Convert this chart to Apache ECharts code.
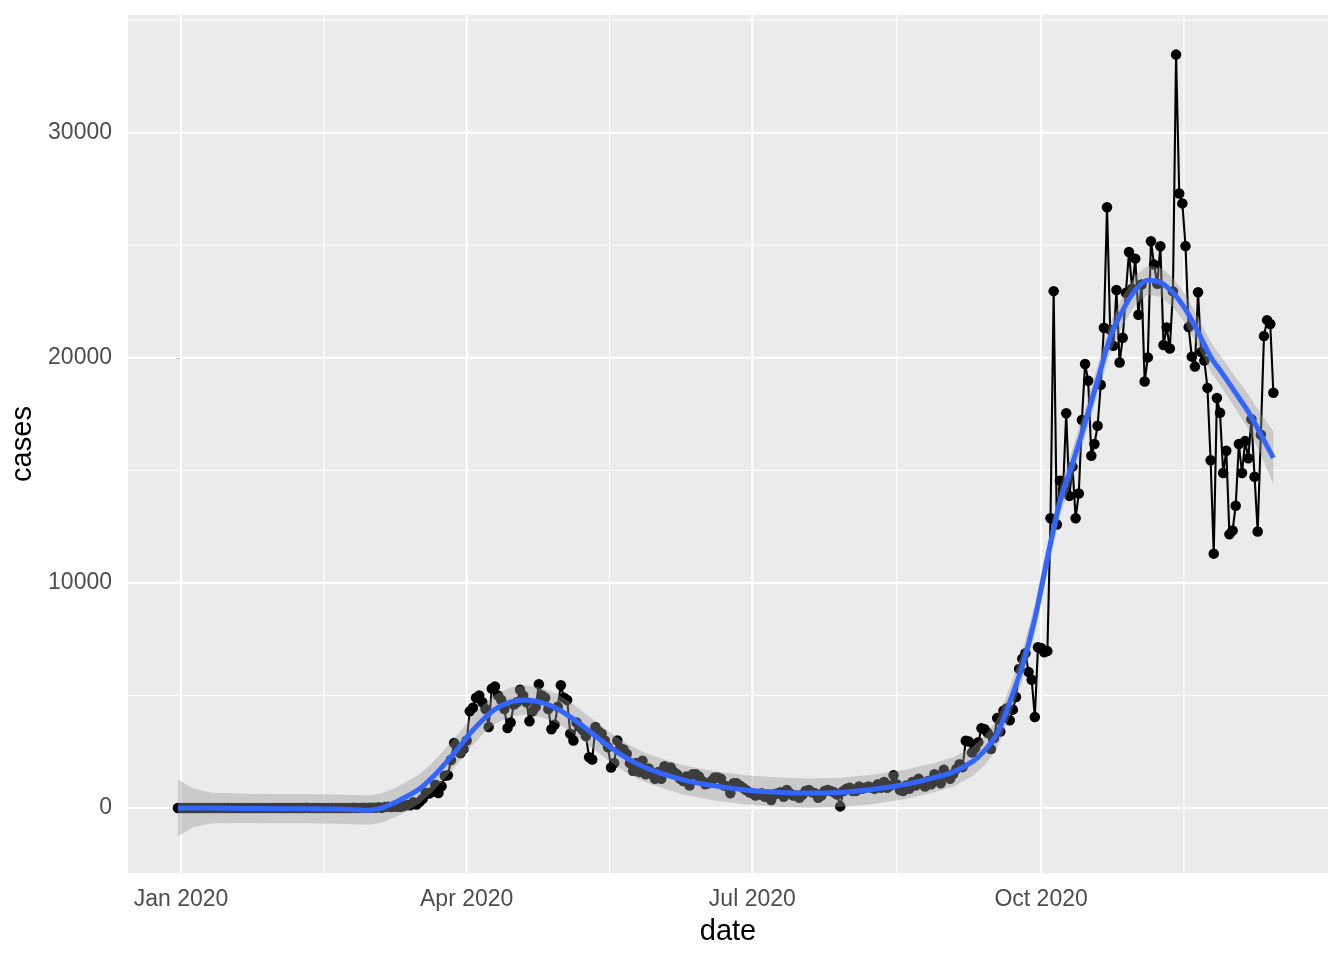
<!DOCTYPE html>
<html>
<head>
<meta charset="utf-8">
<script src="https://cdn.jsdelivr.net/npm/echarts@6/dist/echarts.min.js"></script>
<style>
  html, body { margin: 0; padding: 0; background: #fff; }
  #chart { width: 1344px; height: 960px; }
</style>
</head>
<body>
<div id="chart"></div>
<script>
// daily cases, first day is 2019-12-31 (day -1, day 0 = 2020-01-01)
const firstDay = -1
const dec2019 = [0]
const jan = [0, 0, 0, 0, 0, 0, 0, 0, 0, 0, 0, 0, 0, 0, 0, 0, 0, 0, 0, 0, 0, 0, 0, 0, 0, 0, 0, 0, 0, 0, 0]
const feb = [2, 0, 0, 0, 0, 1, 0, 0, 0, 4, 1, 0, 1, 0, 0, 0, 0, 0, 0, 0, 0, 0, 0, 0, 4, 0, 2, 5, 3]
const mar = [12, 4, 11, 34, 3, 47, 48, 46, 67, 48, 52, 83, 134, 117, 251, 152, 271, 407, 676, 643,
  714, 1035, 665, 967, 1427, 1452, 2129, 2885, 2546, 2433, 2619]
const apr = [3000, 4300, 4450, 4900, 5000, 4700, 4400, 3600, 5300, 5400,
  5000, 4800, 4400, 3550, 3800, 4600, 4700, 5250, 5000, 4700,
  3850, 4300, 4500, 5500, 5000, 4900, 4400, 3500, 3700, 4500]
const may = [5450, 4900, 4800, 3300, 3000, 3800, 3600, 3450, 3200, 2250,
  2150, 3600, 3400, 3300, 3000, 2700, 1800, 2000, 3000, 2650,
  2600, 2400, 2000, 1650, 2000, 1600, 2100, 1500, 1750, 1500, 1300]
const jun = [1600, 1300, 1850, 1700, 1800, 1600, 1500, 1300, 1200, 1400,
  1000, 1500, 1500, 1400, 1200, 1050, 1100, 1200, 1350, 1350,
  1300, 1000, 950, 650, 1100, 1100, 1000, 900, 800, 700]
const jul = [650, 550, 600, 650, 500, 600, 350, 600, 650, 700,
  500, 800, 650, 550, 550, 450, 600, 750, 800, 700,
  650, 450, 550, 750, 800, 750, 700, 600, 70, 750, 850]
const aug = [900, 750, 750, 950, 850, 900, 950, 900, 850, 1050,
  900, 1150, 900, 1000, 1450, 1050, 800, 750, 1000, 850,
  1150, 1000, 1300, 1100, 950, 1200, 1050, 1500, 1250, 1100, 1700]
const sep = [1406, 1295, 1508, 1735, 1940, 1813, 2988, 2948, 2460, 2659,
  2919, 3539, 3497, 3330, 2621, 3105, 3991, 3395, 4322, 4422,
  3899, 4368, 4926, 6178, 6634, 6874, 6042, 5693, 4044, 7143]
const oct = [7108, 6914, 6968, 12872, 22961, 12594, 14542, 14162, 17540, 13864,
  15166, 12872, 13972, 17234, 19724, 18980, 15650, 16171, 16982, 18804,
  21331, 26688, 21242, 20530, 23012, 19790, 20890, 22885, 24701, 23065, 24405]
const nov = [21915, 23254, 18950, 20018, 25177, 24141, 23287, 24957, 20572, 21350,
  20412, 22950, 33470, 27301, 26860, 24962, 21363, 20051, 19609, 22915,
  20252, 19875, 18662, 15450, 11299, 18213, 17555, 14879, 15871, 12155]
const dec = [12330, 13430, 16170, 14879, 16298, 15539, 17272, 14718, 12282, 16578,
  20964, 21672, 21502, 18447]

// loess smooth
const fitDays = [-1, 4, 10, 20, 30, 40, 50, 56, 60, 64, 68, 72, 76, 80, 84, 88, 92, 96, 100, 105,
  110, 115, 120, 125, 130, 135, 140, 145, 150, 160, 170, 180, 190, 200, 210, 220, 230, 240, 246, 252,
  256, 260, 264, 268, 272, 276, 280, 284, 288, 292, 296, 300, 304, 308, 312, 316, 320, 324, 328, 332,
  336, 340, 344, 348]
const fitCases = [0, 0, 0, -20, -30, -30, -50, -80, -100, 0, 230, 520, 850, 1350, 1950, 2600, 3300, 3900, 4380, 4710,
  4800, 4680, 4400, 3950, 3420, 2880, 2380, 1980, 1680, 1250, 980, 800, 700, 660, 690, 820, 1030, 1350, 1600, 2050,
  2550, 3300, 4700, 6300, 8400, 11100, 13600, 15300, 17100, 19000, 20900, 22100, 23000, 23450, 23350, 22900, 22150, 21150, 20050, 19250,
  18430, 17600, 16600, 15550]
// half height of the grey confidence band
const bandHalf = [1260, 850, 680, 650, 650, 650, 650, 650, 650, 650, 650, 650, 650, 650, 650, 650, 650, 650, 650, 650,
  650, 650, 650, 650, 650, 650, 650, 650, 650, 650, 650, 650, 650, 650, 650, 650, 650, 650, 650, 650,
  650, 650, 650, 650, 650, 650, 650, 650, 650, 650, 650, 650, 650, 650, 650, 650, 650, 650, 660, 670,
  700, 780, 900, 1180]

// axes
const xMajor = [0, 91, 182, 274]
const xMinor = [45.5, 136.5, 228, 319.5]
const xLabels = ['Jan 2020', 'Apr 2020', 'Jul 2020', 'Oct 2020']
const yMajor = [0, 10000, 20000, 30000]
const yMinor = [5000, 15000, 25000, 35000]
const xMin = -16.9
const xMax = 365.4
const yMin = -2890
const yMax = 35230

const cases = [].concat(dec2019, jan, feb, mar, apr, may, jun, jul, aug, sep, oct, nov, dec)
const points = cases.map((v, i) => [firstDay + i, v])

const FONT = 'Liberation Sans'

const vGrid = xMajor.map(v => [v, 0, 1]).concat(xMinor.map(v => [v, 0, 0]))
const hGrid = yMajor.map(v => [0, v, 1]).concat(yMinor.map(v => [0, v, 0]))

const chart = echarts.init(document.getElementById('chart'))
chart.setOption({
  animation: false,
  backgroundColor: '#ffffff',
  grid: {
    left: 128,
    right: 16,
    top: 15,
    bottom: 87,
    show: true,
    backgroundColor: '#EBEBEB',
    borderWidth: 0
  },
  xAxis: {
    type: 'value',
    min: xMin,
    max: xMax,
    name: 'date',
    nameLocation: 'middle',
    nameGap: 44,
    nameTextStyle: { fontFamily: FONT, fontSize: 29, color: '#000' },
    axisLine: { show: false },
    splitLine: { show: false },
    axisTick: { show: true, length: 5, customValues: xMajor, lineStyle: { color: '#333333', width: 1.1 } },
    axisLabel: {
      customValues: xMajor,
      margin: 15,
      fontFamily: FONT,
      fontSize: 23,
      color: '#4D4D4D',
      formatter: v => xLabels[xMajor.indexOf(v)]
    }
  },
  yAxis: {
    type: 'value',
    min: yMin,
    max: yMax,
    name: 'cases',
    nameLocation: 'middle',
    nameGap: 86,
    nameTextStyle: { fontFamily: FONT, fontSize: 29, color: '#000' },
    axisLine: { show: false },
    splitLine: { show: false },
    axisTick: { show: true, length: 5, customValues: yMajor, lineStyle: { color: '#333333', width: 1.1 } },
    axisLabel: {
      customValues: yMajor,
      margin: 16,
      fontFamily: FONT,
      fontSize: 23,
      color: '#4D4D4D',
      formatter: v => String(v)
    }
  },
  series: [
    {
      // vertical grid lines
      type: 'custom',
      silent: true,
      z: 1,
      data: vGrid,
      renderItem: (params, api) => {
        const x = api.value(0)
        const a = api.coord([x, yMin])
        const b = api.coord([x, yMax])
        return {
          type: 'line',
          shape: { x1: a[0], y1: a[1], x2: b[0], y2: b[1] },
          style: { stroke: '#ffffff', lineWidth: api.value(2) ? 2.1 : 1.05 }
        }
      }
    },
    {
      // horizontal grid lines
      type: 'custom',
      silent: true,
      z: 1,
      data: hGrid,
      renderItem: (params, api) => {
        const y = api.value(1)
        const a = api.coord([xMin, y])
        const b = api.coord([xMax, y])
        return {
          type: 'line',
          shape: { x1: a[0], y1: a[1], x2: b[0], y2: b[1] },
          style: { stroke: '#ffffff', lineWidth: api.value(2) ? 2.1 : 1.05 }
        }
      }
    },
    {
      type: 'line',
      data: points,
      z: 2,
      symbol: 'circle',
      symbolSize: 10.5,
      showAllSymbol: true,
      itemStyle: { color: '#000000' },
      lineStyle: { color: '#000000', width: 2.1 },
      silent: true
    },
    {
      // confidence band of the smooth
      type: 'custom',
      silent: true,
      z: 3,
      data: [[fitDays[0], fitCases[0]]],
      renderItem: (params, api) => {
        const pts = []
        for (let i = 0; i < fitDays.length; i++) {
          pts.push(api.coord([fitDays[i], fitCases[i] + bandHalf[i]]))
        }
        for (let i = fitDays.length - 1; i >= 0; i--) {
          pts.push(api.coord([fitDays[i], fitCases[i] - bandHalf[i]]))
        }
        return {
          type: 'polygon',
          shape: { points: pts },
          style: { fill: 'rgba(153,153,153,0.4)' }
        }
      }
    },
    {
      type: 'line',
      data: fitDays.map((d, i) => [d, fitCases[i]]),
      z: 4,
      symbol: 'none',
      smooth: 0.3,
      lineStyle: { color: '#3366FF', width: 5 },
      silent: true
    }
  ]
})
</script>
</body>
</html>
